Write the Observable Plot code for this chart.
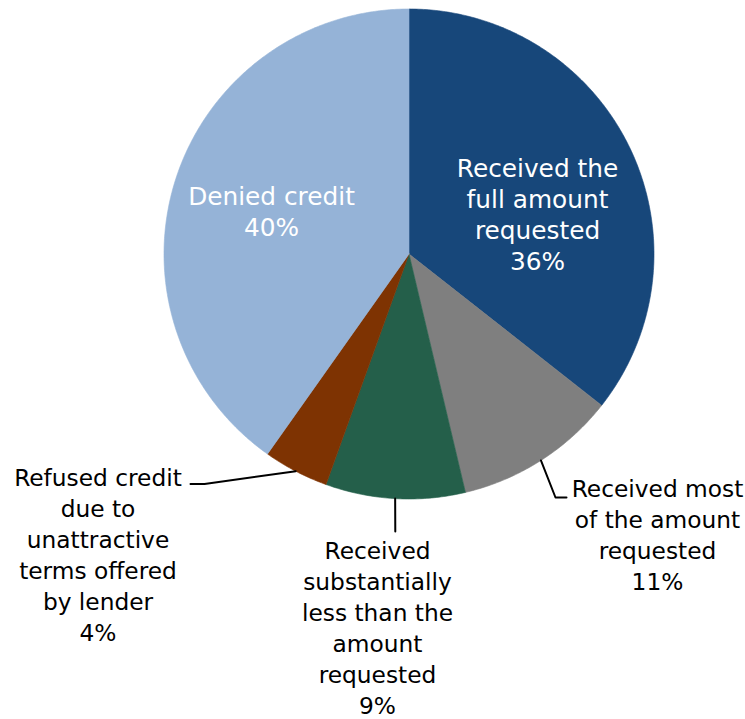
<!DOCTYPE html>
<html>
<head>
<meta charset="utf-8">
<script src="https://cdn.jsdelivr.net/npm/d3@7"></script>
<script src="https://cdn.jsdelivr.net/npm/@observablehq/plot@0.6"></script>
<style>
  html, body { margin: 0; padding: 0; background: #ffffff; }
  #chart { width: 745px; height: 719px; }
</style>
</head>
<body>
<div id="chart"></div>
<script>
// ---- data ----
const categories = [
  "Received the full amount requested",
  "Received most of the amount requested",
  "Received substantially less than the amount requested",
  "Refused credit due to unattractive terms offered by lender",
  "Denied credit"
];
const shares = [35.6, 10.7, 9.2, 4.3, 40.2];
const pctLabels = ["36%", "11%", "9%", "4%", "40%"];
const labelLines = [
  ["Received the", "full amount", "requested"],
  ["Received most", "of the amount", "requested"],
  ["Received", "substantially", "less than the", "amount", "requested"],
  ["Refused credit", "due to", "unattractive", "terms offered", "by lender"],
  ["Denied credit"]
];
const colors = ["#17477A", "#7F7F7F", "#245F4A", "#7E3302", "#95B3D7"];

// ---- layout (not data) ----
const W = 745, H = 719;
const R = 245, CX = 408.5, CY = 253.5;  // pie geometry in pixels
const toU = px => (px - CX) / R;
const toV = py => (py - CY) / R;
// label block centres, inside flag, leader elbows (pixel layout)
const labelLayout = [
  {x: 537, y: 213, inside: true},
  {x: 657, y: 533, inside: false, leader: [[555, 497], [566, 497]]},
  {x: 377, y: 626, inside: false, leader: [[394.8, 531]]},
  {x: 97.5, y: 553, inside: false, leader: [[204, 483.5], [190, 483.5]]},
  {x: 271, y: 210, inside: true}
];

// ---- build slices from shares ----
const total = d3.sum(shares);
let acc = 0;
const slices = categories.map((c, i) => {
  const a0 = acc / total * 2 * Math.PI;
  acc += shares[i];
  const a1 = acc / total * 2 * Math.PI;
  return {category: c, a0, a1, mid: (a0 + a1) / 2, color: colors[i], i};
});

const polyPts = [];
for (const s of slices) {
  polyPts.push({k: s.category, u: 0, v: 0});
  const n = Math.max(4, Math.ceil((s.a1 - s.a0) / 0.01));
  for (let j = 0; j <= n; j++) {
    const a = s.a0 + (s.a1 - s.a0) * j / n;
    polyPts.push({k: s.category, u: Math.sin(a), v: -Math.cos(a)});
  }
  polyPts.push({k: s.category, u: 0, v: 0});
}

// labels
const labels = slices.map((s, i) => ({
  category: s.category,
  text: labelLines[i].concat([pctLabels[i]]).join("\n"),
  u: toU(labelLayout[i].x),
  v: toV(labelLayout[i].y),
  inside: labelLayout[i].inside
}));

// leader lines: start at slice edge mid-angle
const leaderPts = [];
slices.forEach((s, i) => {
  const L = labelLayout[i];
  if (!L.leader) return;
  leaderPts.push({k: s.category, u: Math.sin(s.mid), v: -Math.cos(s.mid)});
  for (const [px, py] of L.leader) leaderPts.push({k: s.category, u: toU(px), v: toV(py)});
});

const font = "'DejaVu Sans', Verdana, sans-serif";

const chart = Plot.plot({
  width: W,
  height: H,
  margin: 0,
  style: {background: "#ffffff", fontFamily: font},
  x: {domain: [toU(0), toU(W)], range: [0, W], axis: null},
  y: {domain: [toV(0), toV(H)], range: [0, H], axis: null},
  color: {domain: categories, range: colors},
  marks: [
    Plot.line(polyPts, {x: "u", y: "v", z: "k", fill: "k", stroke: "k", strokeWidth: 0.6, curve: "linear-closed"}),
    Plot.line(leaderPts, {x: "u", y: "v", z: "k", stroke: "#000000", strokeWidth: 2}),
    Plot.text(labels.filter(d => d.inside), {
      x: "u", y: "v", text: "text", fill: "#ffffff",
      fontSize: 24.8, lineHeight: 1.26, textAnchor: "middle", lineAnchor: "middle", fontFamily: font
    }),
    Plot.text(labels.filter(d => !d.inside), {
      x: "u", y: "v", text: "text", fill: "#000000",
      fontSize: 23.3, lineHeight: 1.33, textAnchor: "middle", lineAnchor: "middle", fontFamily: font
    })
  ]
});

document.getElementById("chart").appendChild(chart);
</script>
</body>
</html>
